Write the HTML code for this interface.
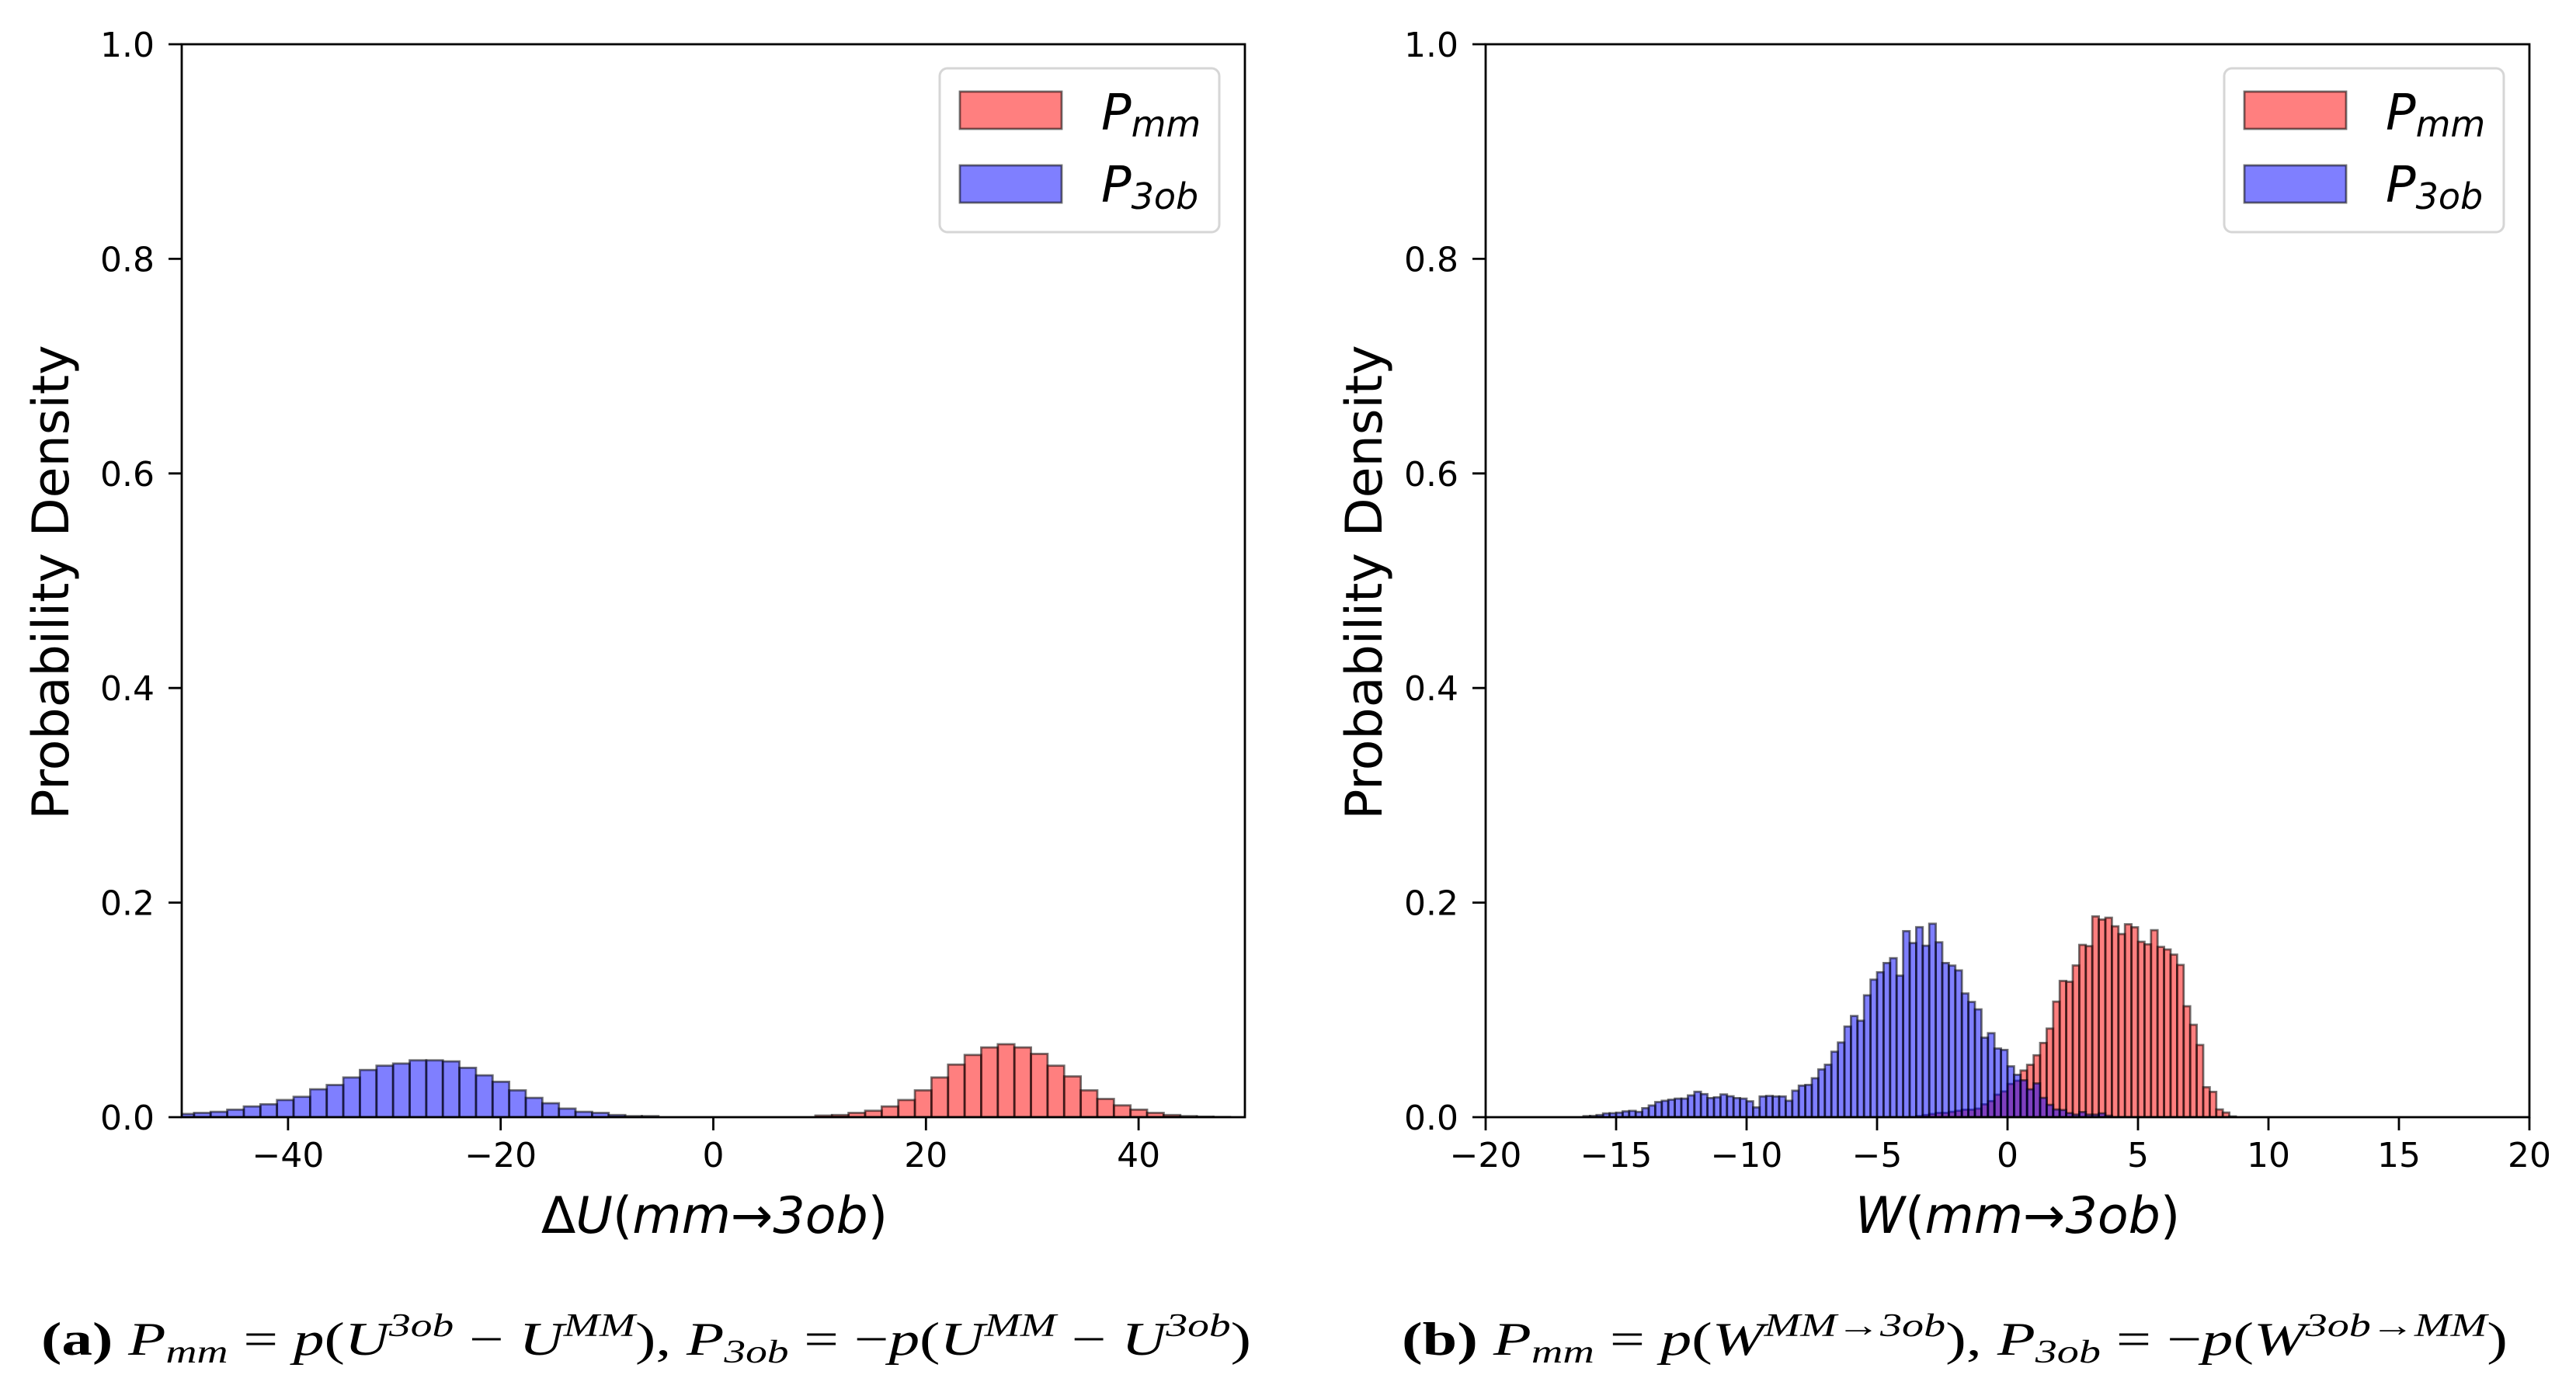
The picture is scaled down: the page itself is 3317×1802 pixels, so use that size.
<!DOCTYPE html>
<html><head><meta charset="utf-8">
<style>
html,body{margin:0;padding:0;background:#fff;}
svg{display:block;}
text{font-family:"DejaVu Sans","Liberation Sans",sans-serif;fill:#000;}
.cap{font-family:"Liberation Serif","DejaVu Serif",serif;}
</style></head>
<body>
<svg id="fig" width="3317" height="1802" viewBox="0 0 3317 1802" xmlns="http://www.w3.org/2000/svg">
<rect x="0" y="0" width="3317" height="1802" fill="#fff"/>
<g id="panelA"></g>
<g id="panelB"></g>
<text class="cap" x="53" y="1745" font-size="60" textLength="1558" lengthAdjust="spacingAndGlyphs"><tspan font-weight="bold" font-style="normal">(a)</tspan> <tspan font-style="italic">P</tspan><tspan font-style="italic" font-size="42" dy="10">mm</tspan><tspan dy="-10"> = </tspan><tspan font-style="italic">p</tspan>(<tspan font-style="italic">U</tspan><tspan font-style="italic" font-size="42" dy="-24">3ob</tspan><tspan dy="24"> − </tspan><tspan font-style="italic">U</tspan><tspan font-style="italic" font-size="42" dy="-24">MM</tspan><tspan dy="24">), </tspan><tspan font-style="italic">P</tspan><tspan font-style="italic" font-size="42" dy="10">3ob</tspan><tspan dy="-10"> = −</tspan><tspan font-style="italic">p</tspan>(<tspan font-style="italic">U</tspan><tspan font-style="italic" font-size="42" dy="-24">MM</tspan><tspan dy="24"> − </tspan><tspan font-style="italic">U</tspan><tspan font-style="italic" font-size="42" dy="-24">3ob</tspan><tspan dy="24">)</tspan></text>
<text class="cap" x="1805" y="1745" font-size="60" textLength="1424" lengthAdjust="spacingAndGlyphs"><tspan font-weight="bold">(b)</tspan> <tspan font-style="italic">P</tspan><tspan font-style="italic" font-size="42" dy="10">mm</tspan><tspan dy="-10"> = </tspan><tspan font-style="italic">p</tspan>(<tspan font-style="italic">W</tspan><tspan font-style="italic" font-size="42" dy="-24">MM→3ob</tspan><tspan dy="24">), </tspan><tspan font-style="italic">P</tspan><tspan font-style="italic" font-size="42" dy="10">3ob</tspan><tspan dy="-10"> = −</tspan><tspan font-style="italic">p</tspan>(<tspan font-style="italic">W</tspan><tspan font-style="italic" font-size="42" dy="-24">3ob→MM</tspan><tspan dy="24">)</tspan></text>
</svg>
<script>
// Panel (a) data
const aTicksX = [-40, -20, 0, 20, 40];
const aTickLabelsX = ["\u221240", "\u221220", "0", "20", "40"];
const yTicks = [0, 0.2, 0.4, 0.6, 0.8, 1.0];
const yTickLabels = ["0.0", "0.2", "0.4", "0.6", "0.8", "1.0"];
const aBinWidth = 1.56;
const aBlueStart = -50.4;
const aBlue = [0.003,0.004,0.005,0.007,0.010,0.012,0.016,0.019,0.026,0.030,0.037,0.044,0.048,0.050,0.053,0.053,0.052,0.046,0.039,0.033,0.025,0.018,0.013,0.008,0.005,0.004,0.002,0.001,0.001];
const aRedStart = 9.6;
const aRed = [0.0015,0.002,0.004,0.006,0.010,0.016,0.025,0.037,0.049,0.058,0.065,0.068,0.065,0.059,0.048,0.038,0.025,0.017,0.011,0.007,0.004,0.002,0.001,0.0005,0.0002];
// Panel (b) data
const bTicksX = [-20, -15, -10, -5, 0, 5, 10, 15, 20];
const bTickLabelsX = ["\u221220","\u221215","\u221210","\u22125","0","5","10","15","20"];
const bBinWidth = 0.25;
const bBlueStart = -16.25;
const bBlue = [0.001,0.0012,0.002,0.0035,0.0037,0.0042,0.0054,0.0059,0.0049,0.0084,0.0109,0.0141,0.0153,0.0163,0.0173,0.0173,0.0203,0.0237,0.0215,0.0178,0.0185,0.0212,0.0195,0.0178,0.0173,0.0148,0.0091,0.0193,0.0198,0.0193,0.0193,0.0153,0.0247,0.0294,0.0301,0.0363,0.0445,0.0489,0.0610,0.0696,0.0845,0.0943,0.0899,0.1136,0.1282,0.1351,0.1437,0.1482,0.1319,0.1734,0.1623,0.1771,0.1598,0.1803,0.1630,0.1437,0.1413,0.1368,0.1153,0.1074,0.1005,0.0741,0.0783,0.0640,0.0627,0.0474,0.0395,0.0344,0.026,0.0315,0.018,0.0115,0.0072,0.0067,0.0038,0.0024,0.0048,0.0024,0.0024,0.0036,0.0014];
const bRedStart = -3.5;
const bRed = [0.001,0.002,0.003,0.004,0.004,0.005,0.006,0.007,0.007,0.008,0.012,0.015,0.021,0.024,0.031,0.034,0.0435,0.0488,0.0577,0.0692,0.0826,0.1077,0.127,0.1262,0.1414,0.1606,0.1594,0.1871,0.1842,0.1859,0.1779,0.1707,0.1798,0.177,0.1635,0.1611,0.1743,0.1587,0.1563,0.1515,0.1419,0.1034,0.0861,0.0673,0.0279,0.0236,0.0072,0.0043,0.0007];

const NS = "http://www.w3.org/2000/svg";
function mk(tag, attrs, parent){const e=document.createElementNS(NS,tag);for(const k in attrs)e.setAttribute(k,attrs[k]);parent.appendChild(e);return e;}

function panel(g, L, R, xmin, xmax, ticksX, tickLabelsX, series, xlabelParts, ylabelX, xlabelX){
  const T=57, B=1439;
  const sx=v=>L+(v-xmin)/(xmax-xmin)*(R-L);
  const sy=v=>B-v*(B-T);
  const clip = mk("clipPath",{id:"clip"+L},g);
  mk("rect",{x:L,y:T,width:R-L,height:B-T},clip);
  const bars = mk("g",{"clip-path":"url(#clip"+L+")"},g);
  series.forEach(s=>{
    s.vals.forEach((v,i)=>{
      const x0=sx(s.start+i*s.w), x1=sx(s.start+(i+1)*s.w);
      const r=mk("rect",{x:x0,y:sy(v),width:x1-x0,height:sy(0)-sy(v),fill:s.color,"fill-opacity":"0.5",stroke:"#000","stroke-opacity":"0.55","stroke-width":"2.8"},bars);
      
      
    });
  });
  const frame=mk("rect",{x:L,y:T,width:R-L,height:B-T,fill:"none",stroke:"#000","stroke-width":"2.8"},g);
  
  
  yTicks.forEach((v,i)=>{
    mk("line",{x1:L-17,x2:L,y1:sy(v),y2:sy(v),stroke:"#000","stroke-width":"2.8"},g);
    const t=mk("text",{x:L-35,y:sy(v)+16,"font-size":"44","text-anchor":"end"},g);
    t.textContent=yTickLabels[i];
    
    
  });
  ticksX.forEach((v,i)=>{
    mk("line",{x1:sx(v),x2:sx(v),y1:B,y2:B+17,stroke:"#000","stroke-width":"2.8"},g);
    const t=mk("text",{x:sx(v),y:1503,"font-size":"44","text-anchor":"middle"},g);
    t.textContent=tickLabelsX[i];
    
    
  });
  const yl=mk("text",{x:0,y:0,"font-size":"65","text-anchor":"middle",transform:"translate("+(ylabelX)+",750) rotate(-90)"},g);
  yl.textContent="Probability Density";
  
  
  const xl=mk("text",{x:xlabelX,y:1588,"font-size":"65","text-anchor":"middle"},g);
  xlabelParts.forEach(p=>{const ts=mk("tspan",{"font-style":p[1]?"italic":"normal"},xl);ts.textContent=p[0];});
  
  
  // legend
  const lx=R-393;
  const lg=mk("g",{},g);
  
  
  mk("rect",{x:lx,y:88,width:360,height:211,rx:10,fill:"#fff","fill-opacity":"0.8",stroke:"#d6d6d6","stroke-width":"3"},lg);
  const entries=[["red","mm",118,167],["blue","3ob",213,260]];
  entries.forEach(e=>{
    const p=mk("rect",{x:lx+26,y:e[2],width:131,height:48,fill:e[0],"fill-opacity":"0.5",stroke:"#000","stroke-opacity":"0.55","stroke-width":"2.8"},lg);
    
    
    const t=mk("text",{x:lx+208,y:e[3],"font-size":"64","font-style":"italic"},lg);
    const a=mk("tspan",{},t);a.textContent="P";
    const b=mk("tspan",{"font-size":"46",dy:"9"},t);b.textContent=e[1];
    
    
  });
}
panel(document.getElementById("panelA"),234,1603,-50,50,aTicksX,aTickLabelsX,
  [{name:"p-mm",color:"red",start:aRedStart,w:aBinWidth,vals:aRed},{name:"p-3ob",color:"blue",start:aBlueStart,w:aBinWidth,vals:aBlue}],
  [["\u0394",false],["U",true],["(",false],["mm",true],["\u2192",false],["3ob",true],[")",false]],88,920);
panel(document.getElementById("panelB"),1913,3257,-20,20,bTicksX,bTickLabelsX,
  [{name:"p-mm",color:"red",start:bRedStart,w:bBinWidth,vals:bRed},{name:"p-3ob",color:"blue",start:bBlueStart,w:bBinWidth,vals:bBlue}],
  [["W",true],["(",false],["mm",true],["\u2192",false],["3ob",true],[")",false]],1779,2598);
</script>
</body></html>
